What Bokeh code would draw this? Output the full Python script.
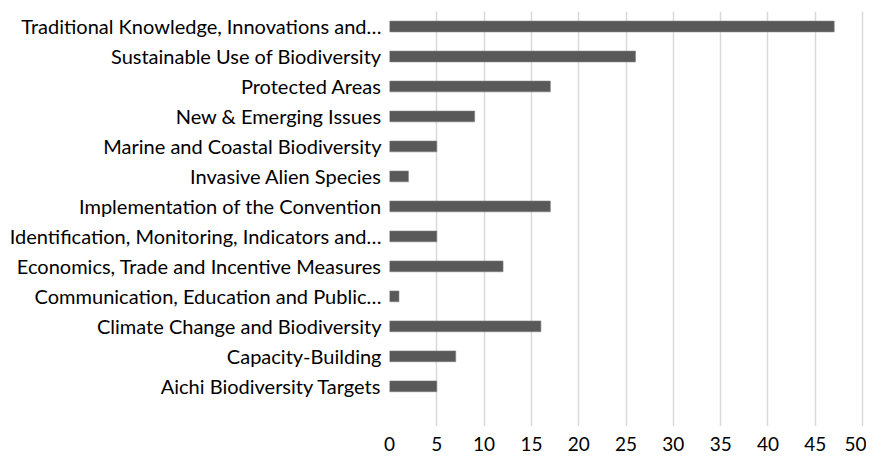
from bokeh.plotting import figure
from bokeh.models import FixedTicker, Range1d, ColumnDataSource
from bokeh.embed import file_html
from bokeh.resources import INLINE

categories = [
    "Traditional Knowledge, Innovations and…",
    "Sustainable Use of Biodiversity",
    "Protected Areas",
    "New & Emerging Issues",
    "Marine and Coastal Biodiversity",
    "Invasive Alien Species",
    "Implementation of the Convention",
    "Identification, Monitoring, Indicators and…",
    "Economics, Trade and Incentive Measures",
    "Communication, Education and Public…",
    "Climate Change and Biodiversity",
    "Capacity-Building",
    "Aichi Biodiversity Targets",
]
values = [47, 26, 17, 9, 5, 2, 17, 5, 12, 1, 16, 7, 5]
x_ticks = list(range(0, 55, 5))

n = len(categories)
ypos = [n - 1 - i for i in range(n)]
src = ColumnDataSource(dict(y=ypos, v=values, name=categories))

p = figure(width=866, height=453, output_backend="svg", toolbar_location=None,
           x_range=Range1d(0, 50.2), y_range=Range1d(-1.34, n - 0.5),
           min_border_left=389, min_border_top=11, min_border_right=2, min_border_bottom=10)
p.outline_line_color = None
p.background_fill_color = "white"

p.hbar(y="y", left=0, right="v", height=0.36, source=src,
       fill_color="#595959", line_color="#7f7f7f", line_width=0.6)

p.xaxis.ticker = FixedTicker(ticks=x_ticks)
p.xaxis.axis_line_color = None
p.xaxis.major_tick_line_color = None
p.xaxis.minor_tick_line_color = None
p.xaxis.major_label_standoff = 4
p.xaxis.major_label_text_font = "Lato"
p.xaxis.major_label_text_font_size = "19px"
p.xaxis.major_label_text_color = "#000000"

p.yaxis.ticker = FixedTicker(ticks=ypos)
p.yaxis.major_label_overrides = {y: c for y, c in zip(ypos, categories)}
p.yaxis.axis_line_color = None
p.yaxis.major_tick_line_color = None
p.yaxis.minor_tick_line_color = None
p.yaxis.major_label_standoff = 2
p.yaxis.major_label_text_font = "Lato"
p.yaxis.major_label_text_font_size = "20px"
p.yaxis.major_label_text_color = "#000000"

p.xgrid.ticker = FixedTicker(ticks=x_ticks)
p.xgrid.grid_line_color = "#d9d9d9"
p.xgrid.grid_line_width = 1.5
p.ygrid.grid_line_color = None

open("out.html", "w").write(file_html(p, INLINE))
